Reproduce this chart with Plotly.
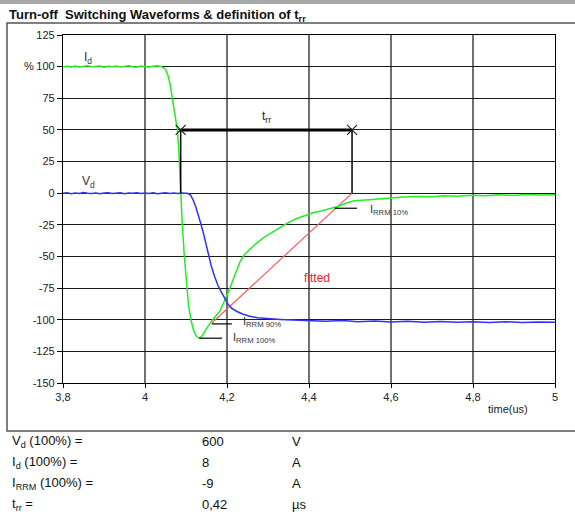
import plotly.graph_objects as go

# ---- waveform samples: time in µs, value in % of nominal ----
id_t = [3.80, 3.81, 3.82, 3.83, 3.84, 3.85, 3.86, 3.87, 3.88, 3.89, 3.90, 3.91, 3.92,
        3.93, 3.94, 3.95, 3.96, 3.97, 3.98, 3.99, 4.00, 4.01, 4.02, 4.03, 4.04,
        4.050, 4.056, 4.062, 4.068, 4.074, 4.079, 4.083, 4.087, 4.091, 4.096, 4.101,
        4.106, 4.112, 4.118, 4.124, 4.130, 4.136, 4.142, 4.150, 4.158, 4.165, 4.175,
        4.183, 4.190, 4.199, 4.206, 4.213, 4.222, 4.232, 4.244, 4.256, 4.270, 4.290,
        4.310, 4.330, 4.350, 4.370, 4.390, 4.410, 4.430, 4.450, 4.470, 4.490, 4.510,
        4.530, 4.550, 4.570, 4.600, 4.630, 4.660, 4.700, 4.730, 4.760, 4.800, 4.830,
        4.860, 4.900, 4.930, 4.960, 5.000]
id_v = [100.0, 100.3, 99.7, 100.5, 99.8, 100.2, 100.6, 99.9, 100.1, 100.4, 99.6, 100.3, 100.0,
        100.5, 99.8, 100.2, 100.7, 100.0, 99.7, 100.4, 100.1, 99.8, 100.3, 100.6, 100.0,
        98.0, 93.0, 85.0, 72.0, 60.0, 50.0, 30.0, 0.0, -25.0, -50.0, -72.0,
        -88.0, -100.0, -108.0, -112.5, -114.3, -114.0, -111.5, -107.0, -103.0, -100.0, -96.0,
        -93.0, -88.0, -82.0, -76.0, -70.0, -62.0, -54.0, -48.0, -44.0, -40.0, -35.0,
        -31.0, -27.0, -23.0, -20.0, -17.5, -15.5, -14.0, -12.5, -10.5, -8.0, -6.0,
        -5.5, -5.0, -4.2, -3.8, -3.0, -2.6, -2.9, -2.0, -2.4, -1.6, -2.1,
        -1.3, -1.8, -1.0, -1.5, -1.2]

vd_t = [3.80, 3.81, 3.82, 3.83, 3.84, 3.85, 3.86, 3.87, 3.88, 3.89, 3.90, 3.91, 3.92,
        3.93, 3.94, 3.95, 3.96, 3.97, 3.98, 3.99, 4.00, 4.01, 4.02, 4.03, 4.04, 4.05,
        4.06, 4.07, 4.08, 4.09, 4.10, 4.105, 4.111, 4.117, 4.124, 4.130, 4.136, 4.142,
        4.148, 4.155, 4.162, 4.170, 4.178, 4.186, 4.194, 4.202, 4.212, 4.224, 4.238,
        4.255, 4.275, 4.300, 4.330, 4.360, 4.400, 4.440, 4.480, 4.520, 4.560, 4.600,
        4.640, 4.680, 4.720, 4.760, 4.800, 4.840, 4.880, 4.920, 4.960, 5.000]
vd_v = [0.0, 0.3, -0.4, 0.2, -0.2, 0.5, 0.0, -0.3, 0.2, -0.5, 0.1, 0.4, -0.2,
        0.0, 0.3, -0.4, 0.1, -0.1, 0.4, -0.3, 0.2, -0.2, 0.3, -0.4, 0.0, 0.3,
        -0.2, 0.1, -0.3, 0.2, 0.0, -0.3, -1.5, -5.0, -11.0, -17.0, -24.0, -31.0,
        -39.0, -49.0, -58.0, -66.0, -73.0, -78.0, -83.0, -87.5, -91.0, -93.5, -95.5,
        -97.2, -98.5, -99.3, -99.8, -100.3, -100.8, -101.2, -100.7, -101.5, -101.0, -101.8,
        -101.2, -101.9, -101.4, -102.0, -101.5, -102.1, -101.6, -102.2, -101.7, -102.0]

# straight line fitted through the 90 % and 10 % points of the reverse-recovery tail
fit_t = [4.163, 4.505]
fit_v = [-102.6, 0.0]

# reverse-recovery time: from I_d zero crossing to the zero of the fitted line
trr_t = [4.087, 4.505]
trr_level = 50

# I_RRM reference marks (label, start time, end time, level)
irrm_marks = [
    ("I<sub>RRM 100%</sub>", 4.132, 4.188, -114.6),
    ("I<sub>RRM 90%</sub>", 4.163, 4.212, -103.3),
    ("I<sub>RRM 10%</sub>", 4.463, 4.517, -11.9),
]
irrm_label_pos = [(4.210, -114.6), (4.233, -102.0), (4.544, -13.5)]

x_ticks = [3.8, 4.0, 4.2, 4.4, 4.6, 4.8, 5.0]
x_ticklabels = ["3,8", "4", "4,2", "4,4", "4,6", "4,8", "5"]
y_ticks = [125, 100, 75, 50, 25, 0, -25, -50, -75, -100, -125, -150]
y_ticklabels = ["125", "100", "75", "50", "25", "0", "-25", "-50", "-75", "-100", "-125", "-150"]

table_labels = ["V<sub>d</sub> (100%) =", "I<sub>d</sub> (100%) =",
                "I<sub>RRM</sub> (100%) =", "t<sub>rr</sub> ="]
table_values = ["600", "8", "-9", "0,42"]
table_units = ["V", "A", "A", "µs"]

FONT = "Liberation Sans, Arial, sans-serif"
W, H = 575, 518
PL, PR, PT, PB = 63, 555, 35, 383  # plot area in pixels


def px(xp):
    return (xp - PL) / (PR - PL)


def py(yp):
    return (PB - yp) / (PB - PT)


fig = go.Figure()

# fitted line
fig.add_trace(go.Scatter(x=fit_t, y=fit_v, mode="lines",
                         line=dict(color="#ff5a5a", width=1.2), hoverinfo="skip"))
# I_d and V_d waveforms
fig.add_trace(go.Scatter(x=id_t, y=id_v, mode="lines",
                         line=dict(color="#22ee22", width=1.5), name="I_d"))
fig.add_trace(go.Scatter(x=vd_t, y=vd_v, mode="lines",
                         line=dict(color="#3030ff", width=1.5), name="V_d"))

# t_rr construction: vertical drop lines, bar and cross markers
for t in trr_t:
    fig.add_trace(go.Scatter(x=[t, t], y=[trr_level, 0], mode="lines",
                             line=dict(color="black", width=1.5), hoverinfo="skip"))
fig.add_trace(go.Scatter(x=trr_t, y=[trr_level, trr_level], mode="lines+markers",
                         line=dict(color="black", width=3),
                         marker=dict(symbol="x-thin", size=10,
                                     line=dict(color="#222", width=1.2)),
                         hoverinfo="skip"))

# I_RRM reference ticks
for (label, t0, t1, lvl), (lx, ly) in zip(irrm_marks, irrm_label_pos):
    fig.add_trace(go.Scatter(x=[t0, t1], y=[lvl, lvl], mode="lines",
                             line=dict(color="black", width=1.2), hoverinfo="skip"))
    fig.add_annotation(x=lx, y=ly, text=label, showarrow=False, xanchor="left",
                       yanchor="middle", font=dict(family=FONT, size=11, color="#333"))

fig.add_annotation(x=(trr_t[0] + trr_t[1]) / 2, y=trr_level + 10, text="t<sub>rr</sub>",
                   showarrow=False, font=dict(family=FONT, size=12, color="#222"))
fig.add_annotation(x=4.42, y=-67, text="fitted", showarrow=False,
                   font=dict(family=FONT, size=12, color="#ff2020"))
fig.add_annotation(x=3.861, y=107, text="I<sub>d</sub>", showarrow=False,
                   font=dict(family=FONT, size=12, color="#333"))
fig.add_annotation(x=3.861, y=9, text="V<sub>d</sub>", showarrow=False,
                   font=dict(family=FONT, size=12, color="#333"))

paper_annot = dict(xref="paper", yref="paper", showarrow=False)
fig.add_annotation(x=px(22), y=py(58), text="%", font=dict(family=FONT, size=11, color="#222"),
                   **paper_annot)
fig.add_annotation(x=px(530), y=py(417), text="time(us)",
                   font=dict(family=FONT, size=11, color="#222"), **paper_annot)
fig.add_annotation(x=px(7), y=py(5), text="<b>Turn-off  Switching Waveforms &amp; definition of t<sub>rr</sub></b>",
                   xanchor="left", yanchor="top",
                   font=dict(family=FONT, size=13, color="#111"), **paper_annot)

# data summary below the chart
row_y = [441, 462, 483, 504]
for lab, val, unit, yy in zip(table_labels, table_values, table_units, row_y):
    for text, xx in ((lab, 10), (val, 200), (unit, 290)):
        fig.add_annotation(x=px(xx), y=py(yy), text=text, xanchor="left", yanchor="middle",
                           font=dict(family=FONT, size=13, color="#111"), **paper_annot)

# outer frame and top band
fig.add_shape(type="rect", xref="paper", yref="paper", x0=px(7), x1=px(580), y0=py(431), y1=py(23),
              line=dict(color="#555", width=1.5), layer="below")
fig.add_shape(type="rect", xref="paper", yref="paper", x0=px(0), x1=px(575), y0=py(4), y1=py(0),
              line=dict(width=0), fillcolor="#a8a8a8", layer="below")

fig.update_layout(
    width=W, height=H,
    margin=dict(l=PL, r=W - PR, t=PT, b=H - PB),
    paper_bgcolor="white", plot_bgcolor="white",
    showlegend=False,
    font=dict(family=FONT, size=11, color="#222"),
)
fig.update_xaxes(range=[3.8, 5.0], tickvals=x_ticks, ticktext=x_ticklabels,
                 showgrid=True, gridcolor="#707070", gridwidth=1.6,
                 showline=True, linecolor="black", linewidth=1.2, mirror=True,
                 ticks="outside", ticklen=4, tickcolor="black",
                 zeroline=False, tickfont=dict(size=11, color="#222"))
fig.update_yaxes(range=[-150, 125], tickvals=y_ticks, ticktext=y_ticklabels,
                 showgrid=True, gridcolor="#1a1a1a", gridwidth=1.3,
                 showline=True, linecolor="black", linewidth=1.2, mirror=True,
                 ticks="outside", ticklen=5, tickcolor="black",
                 zeroline=False, tickfont=dict(size=11, color="#222"))

fig.write_html("out.html")
